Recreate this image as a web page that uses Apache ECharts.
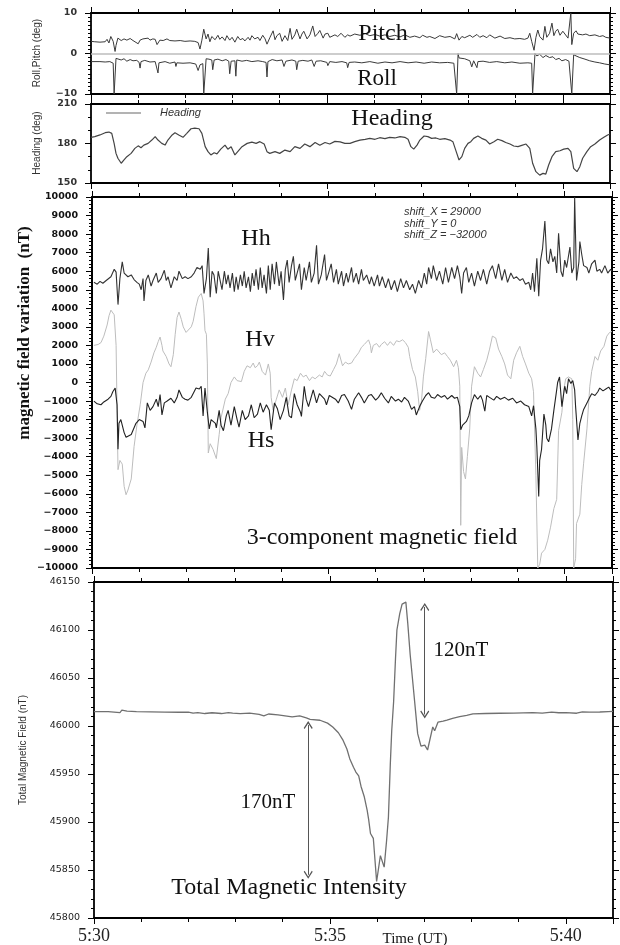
<!DOCTYPE html>
<html><head><meta charset="utf-8">
<script src="https://cdn.jsdelivr.net/npm/echarts@6/dist/echarts.min.js"></script>
<style>html,body{margin:0;padding:0;background:#fff;}#c{width:620px;height:945px;}</style>
</head><body><div id="c"></div>
<script>
// time in minutes after 5:30 UT
const timeTickValues = [0, 5, 10];
const timeTickLabels = ['5:30', '5:35', '5:40'];
const rollPitchRange = [-10, 10, 10];
const headingRange = [150, 210, 30];
const fieldRange = [-10000, 10000, 1000];
const tmiRange = [45800, 46150, 50];

const pitch = [[0,3.0],[0.08,2.9],[0.19,2.8],[0.30,2.9],[0.34,3.5],[0.38,2.6],[0.42,4.2],[0.47,3.0],[0.51,0.5],[0.53,2.0],[0.57,3.8],[0.64,3.2],[0.70,3.6],[0.76,3.3],[0.83,3.7],[0.89,3.2],[0.93,3.5],[1.00,2.4],[1.04,3.3],[1.10,3.6],[1.14,3.4],[1.21,3.8],[1.25,3.3],[1.31,3.6],[1.36,3.5],[1.40,2.2],[1.46,3.3],[1.53,3.2],[1.61,3.6],[1.67,3.2],[1.78,3.1],[1.89,3.2],[1.99,3.0],[2.10,3.1],[2.20,3.0],[2.27,2.7],[2.31,1.1],[2.35,3.3],[2.39,6.0],[2.44,3.6],[2.48,4.8],[2.52,2.9],[2.56,4.2],[2.63,3.4],[2.69,4.5],[2.73,3.5],[2.78,4.1],[2.84,3.2],[2.88,4.4],[2.94,3.3],[2.99,4.0],[3.05,2.8],[3.11,4.2],[3.16,3.4],[3.22,3.7],[3.26,3.1],[3.33,4.0],[3.37,3.3],[3.41,4.4],[3.47,3.6],[3.54,4.0],[3.58,3.2],[3.64,4.5],[3.69,3.6],[3.73,2.3],[3.79,3.9],[3.86,5.6],[3.90,3.4],[3.94,4.4],[4.00,5.0],[4.05,3.0],[4.11,4.4],[4.17,3.2],[4.22,6.2],[4.26,3.5],[4.32,4.6],[4.36,6.0],[4.43,3.6],[4.47,4.8],[4.51,5.5],[4.58,3.6],[4.64,4.6],[4.70,6.8],[4.75,4.2],[4.81,5.0],[4.85,5.7],[4.92,3.8],[4.96,4.8],[5.02,5.0],[5.06,4.0],[5.17,4.6],[5.23,4.2],[5.30,5.0],[5.38,4.0],[5.44,4.6],[5.49,4.3],[5.59,4.8],[5.70,4.5],[5.81,4.9],[5.91,4.4],[6.02,4.7],[6.12,4.3],[6.23,4.6],[6.33,4.2],[6.44,4.5],[6.55,4.1],[6.65,4.6],[6.76,4.0],[6.86,4.3],[6.97,3.9],[7.03,4.5],[7.12,4.0],[7.18,4.2],[7.29,3.7],[7.39,4.4],[7.50,4.0],[7.61,4.2],[7.71,3.6],[7.75,4.9],[7.80,3.3],[7.86,4.2],[7.92,3.9],[8.03,4.5],[8.09,4.0],[8.18,4.7],[8.24,4.0],[8.31,4.4],[8.39,3.9],[8.45,4.6],[8.56,3.8],[8.67,4.3],[8.77,3.7],[8.88,3.9],[8.98,3.6],[9.09,3.7],[9.19,3.5],[9.26,3.8],[9.30,5.0],[9.34,3.0],[9.39,0.8],[9.43,4.0],[9.47,5.8],[9.51,4.2],[9.58,3.3],[9.62,6.7],[9.66,4.0],[9.72,5.0],[9.77,7.5],[9.81,4.4],[9.85,5.5],[9.89,6.0],[9.94,4.5],[10.00,5.5],[10.04,5.2],[10.11,3.8],[10.15,4.0],[10.17,10.0],[10.19,2.2],[10.23,5.0],[10.28,5.6],[10.32,4.8],[10.36,5.0],[10.42,4.6],[10.49,4.8],[10.57,4.4],[10.68,4.6],[10.78,4.2],[10.85,4.4],[10.91,4.0],[11.0,3.8]];

const roll = [[0,-2.0],[0.19,-2.0],[0.30,-2.1],[0.40,-2.0],[0.44,-2.3],[0.47,-2.4],[0.49,-10],[0.51,-10],[0.53,-1.2],[0.57,-1.1],[0.64,-1.6],[0.70,-1.3],[0.76,-1.9],[0.83,-1.5],[0.89,-1.8],[0.97,-1.7],[1.02,-2.2],[1.04,-3.6],[1.06,-2.0],[1.14,-1.7],[1.25,-2.1],[1.36,-2.0],[1.40,-2.4],[1.42,-4.8],[1.44,-2.3],[1.57,-2.0],[1.67,-2.4],[1.78,-2.1],[1.80,-3.2],[1.82,-2.3],[1.95,-2.4],[2.10,-2.3],[2.22,-2.6],[2.27,-4.2],[2.31,-2.8],[2.37,-2.5],[2.39,-10],[2.42,-10],[2.44,-1.3],[2.50,-1.4],[2.56,-1.6],[2.58,-4.0],[2.61,-1.6],[2.69,-1.4],[2.78,-1.8],[2.86,-1.5],[2.92,-1.9],[2.94,-5.0],[2.97,-1.9],[3.05,-1.8],[3.07,-5.6],[3.09,-1.6],[3.20,-1.9],[3.30,-1.7],[3.41,-2.0],[3.54,-1.8],[3.64,-2.0],[3.71,-2.2],[3.73,-5.8],[3.75,-2.0],[3.84,-1.5],[3.94,-1.8],[4.05,-1.6],[4.09,-3.2],[4.13,-1.9],[4.26,-1.6],[4.34,-1.9],[4.36,-4.0],[4.39,-1.9],[4.49,-1.7],[4.60,-1.9],[4.68,-1.6],[4.73,-3.2],[4.77,-1.9],[4.87,-1.8],[5.00,-2.2],[5.02,-3.0],[5.06,-2.0],[5.19,-2.2],[5.32,-2.0],[5.42,-2.3],[5.44,-3.5],[5.47,-2.2],[5.59,-2.1],[5.74,-2.3],[5.91,-2.0],[6.08,-2.4],[6.23,-2.1],[6.38,-2.3],[6.55,-2.0],[6.72,-2.3],[6.89,-2.1],[7.06,-2.4],[7.22,-2.1],[7.39,-2.3],[7.56,-2.2],[7.69,-2.4],[7.73,-2.3],[7.75,-10],[7.78,0],[7.80,-1.1],[7.92,-1.3],[8.03,-1.8],[8.07,-3.3],[8.11,-1.8],[8.18,-3.5],[8.20,-2.0],[8.31,-1.9],[8.45,-2.2],[8.60,-2.0],[8.77,-2.3],[8.92,-2.1],[9.09,-2.4],[9.26,-2.3],[9.34,-2.4],[9.36,-10],[9.41,0],[9.45,-0.6],[9.51,-0.2],[9.58,-1.0],[9.64,-0.5],[9.72,-1.0],[9.79,-0.8],[9.85,-1.5],[9.92,-1.2],[9.98,-1.8],[10.06,-1.5],[10.13,-1.9],[10.17,-1.6],[10.19,-10],[10.23,-0.3],[10.28,-0.6],[10.36,-1.0],[10.47,-1.4],[10.57,-1.8],[10.68,-2.1],[10.78,-2.3],[10.89,-2.6],[11.0,-2.8]];

const heading = [[0,184.7],[0.08,185.2],[0.19,186.5],[0.30,188.2],[0.38,188.7],[0.44,187.7],[0.49,180.1],[0.53,172.5],[0.57,168.8],[0.64,165],[0.70,167.5],[0.76,170],[0.85,172.5],[0.93,176.3],[1.00,178.2],[1.06,176.8],[1.12,178.8],[1.21,180.1],[1.29,182.6],[1.36,185.2],[1.42,182.6],[1.50,180.1],[1.57,178.8],[1.63,182.6],[1.72,186.5],[1.78,188.2],[1.86,186.5],[1.95,184.7],[2.03,187.7],[2.12,191.2],[2.20,191.7],[2.29,191.2],[2.35,187.7],[2.42,177.6],[2.48,173.8],[2.54,171.3],[2.61,173],[2.67,172.1],[2.75,175.7],[2.84,178.8],[2.90,175.7],[2.97,177.6],[3.05,171.3],[3.11,173.8],[3.20,177.6],[3.31,180.1],[3.41,181],[3.50,180.1],[3.58,181.4],[3.67,179.6],[3.73,173.8],[3.79,172.5],[3.90,173.8],[4.00,172.5],[4.11,175],[4.22,173.8],[4.32,177.6],[4.43,176.3],[4.53,179.6],[4.64,177.6],[4.75,180.8],[4.85,178.6],[4.96,180.8],[5.06,179.6],[5.17,181.6],[5.28,181.2],[5.38,180.1],[5.49,180.1],[5.59,181.4],[5.70,182.6],[5.81,183.2],[5.91,183.9],[6.02,183.2],[6.12,184.4],[6.23,183.7],[6.33,184.7],[6.44,184.2],[6.55,185.2],[6.65,184.7],[6.72,183.2],[6.78,177.6],[6.84,175.7],[6.91,178.8],[6.97,182.6],[7.06,185.7],[7.14,185.2],[7.22,183.9],[7.31,184.2],[7.39,183.2],[7.50,183.7],[7.61,182.6],[7.67,181.4],[7.73,175],[7.80,167.5],[7.86,170],[7.92,176.3],[7.99,180.1],[8.05,181.4],[8.11,183.9],[8.20,185.7],[8.28,183.9],[8.37,182.6],[8.45,179.6],[8.54,181.4],[8.62,183.2],[8.71,182.2],[8.79,180.8],[8.88,179.6],[8.96,178.1],[9.05,177.6],[9.13,178.6],[9.22,179.6],[9.30,176.3],[9.36,165],[9.43,158.6],[9.51,156],[9.58,157.3],[9.64,156.8],[9.70,163.7],[9.77,170],[9.85,173.8],[9.94,174.5],[10.02,175.7],[10.11,176.3],[10.17,173.8],[10.23,161.1],[10.30,158.6],[10.36,162.4],[10.42,168.8],[10.51,173.8],[10.59,177.6],[10.68,179.6],[10.78,182.6],[10.87,184.7],[10.95,186.5],[11.0,187.2]];

const hh = [[0.04,5400],[0.11,5300],[0.17,5450],[0.23,5350],[0.30,5500],[0.34,5450],[0.40,5700],[0.44,5600],[0.47,6100],[0.51,5950],[0.55,4200],[0.59,5600],[0.64,6500],[0.68,5900],[0.72,6000],[0.76,5700],[0.83,5800],[0.89,5550],[0.95,5400],[1.00,5300],[1.04,5000],[1.08,5600],[1.10,4400],[1.14,5500],[1.19,5800],[1.25,5200],[1.29,5500],[1.36,5900],[1.40,5400],[1.46,5600],[1.53,6050],[1.57,5500],[1.61,5700],[1.67,5100],[1.74,5700],[1.80,5500],[1.84,6000],[1.91,5600],[1.97,5700],[2.03,5600],[2.10,5700],[2.16,5900],[2.22,6200],[2.29,6100],[2.33,6300],[2.37,4800],[2.42,5600],[2.46,7250],[2.50,4600],[2.54,6000],[2.58,5800],[2.63,4800],[2.67,6000],[2.71,5500],[2.75,5000],[2.80,6000],[2.84,5300],[2.88,5800],[2.92,5100],[2.97,5900],[3.01,4900],[3.05,5700],[3.09,5000],[3.14,5800],[3.18,5200],[3.22,6000],[3.26,5100],[3.31,5700],[3.35,4900],[3.39,5900],[3.43,5200],[3.47,6100],[3.52,5000],[3.56,6200],[3.60,5100],[3.64,5800],[3.69,4800],[3.73,6300],[3.77,5000],[3.81,6400],[3.86,5300],[3.90,6500],[3.96,5200],[4.00,6000],[4.05,4450],[4.09,6100],[4.13,6600],[4.17,5400],[4.22,6300],[4.26,6800],[4.30,5500],[4.34,5400],[4.39,6400],[4.43,5000],[4.49,6200],[4.53,5500],[4.60,6500],[4.64,5400],[4.70,5900],[4.75,7400],[4.79,5300],[4.85,5800],[4.92,6900],[4.96,5500],[5.00,5500],[5.06,6400],[5.11,5400],[5.17,6100],[5.21,5300],[5.28,6000],[5.32,5200],[5.38,5900],[5.42,5400],[5.49,6200],[5.53,5400],[5.59,5900],[5.64,5300],[5.70,6100],[5.74,5500],[5.81,5800],[5.87,5300],[5.91,5700],[5.97,5200],[6.04,5800],[6.08,5200],[6.14,5700],[6.21,5100],[6.27,5600],[6.33,5000],[6.40,5500],[6.46,4900],[6.53,5600],[6.59,5100],[6.65,5500],[6.72,5000],[6.78,5300],[6.84,4800],[6.91,5500],[6.97,5100],[7.03,5900],[7.08,5300],[7.12,6200],[7.18,5600],[7.22,6300],[7.29,5500],[7.35,6000],[7.42,5300],[7.48,6200],[7.54,5400],[7.61,6200],[7.67,5600],[7.73,6300],[7.78,5700],[7.82,4800],[7.86,5900],[7.92,6200],[7.97,5400],[8.03,5900],[8.09,5200],[8.16,6000],[8.22,5500],[8.28,6100],[8.35,5300],[8.41,6000],[8.47,6300],[8.54,5600],[8.60,6400],[8.67,5500],[8.73,6100],[8.79,5400],[8.86,5900],[8.92,5600],[8.98,5700],[9.05,5500],[9.11,5600],[9.17,5300],[9.24,5400],[9.28,5000],[9.32,5900],[9.36,4900],[9.41,6700],[9.45,4650],[9.49,6600],[9.53,7200],[9.58,8700],[9.62,6600],[9.66,6400],[9.70,7200],[9.75,6500],[9.79,6800],[9.83,5900],[9.87,8050],[9.92,6000],[9.96,5700],[10.00,6600],[10.04,6200],[10.11,7300],[10.15,5900],[10.19,6200],[10.21,10000],[10.25,5500],[10.30,6500],[10.32,7600],[10.36,6900],[10.40,6300],[10.47,6200],[10.51,5900],[10.57,6400],[10.64,6600],[10.68,6000],[10.74,6100],[10.78,5900],[10.85,6300],[10.91,5900],[10.97,6100],[11.0,6000]];

const hv = [[0.04,2000],[0.13,2050],[0.19,2150],[0.25,2500],[0.32,3100],[0.36,3600],[0.40,3900],[0.44,3800],[0.47,3650],[0.49,3700],[0.51,2000],[0.53,-1500],[0.55,-4700],[0.59,-4200],[0.64,-4400],[0.68,-5600],[0.72,-6050],[0.76,-5800],[0.83,-5200],[0.89,-3450],[0.95,-2300],[1.02,-1200],[1.08,0],[1.14,500],[1.19,680],[1.25,1100],[1.31,1600],[1.36,1900],[1.40,2200],[1.44,2450],[1.48,2000],[1.50,1700],[1.57,1400],[1.63,1000],[1.67,850],[1.72,1500],[1.76,2600],[1.80,3500],[1.84,3800],[1.89,3400],[1.93,3000],[1.99,2700],[2.03,2650],[2.10,3000],[2.14,3300],[2.20,4100],[2.25,4600],[2.31,4800],[2.35,4400],[2.37,3700],[2.39,2800],[2.42,2600],[2.44,1000],[2.46,-3800],[2.50,-3300],[2.56,-3600],[2.63,-4100],[2.69,-2800],[2.73,-1900],[2.82,-900],[2.88,-600],[2.94,0],[3.01,300],[3.07,100],[3.16,50],[3.22,600],[3.28,900],[3.35,800],[3.41,1050],[3.45,800],[3.50,900],[3.54,1100],[3.60,600],[3.67,400],[3.73,1000],[3.77,500],[3.79,-800],[3.83,-1500],[3.90,-900],[3.96,-400],[4.03,-800],[4.09,-300],[4.15,-1200],[4.22,-400],[4.28,200],[4.34,100],[4.41,500],[4.47,300],[4.53,400],[4.60,100],[4.66,300],[4.72,200],[4.81,400],[4.87,300],[4.92,600],[4.98,400],[5.04,350],[5.11,700],[5.17,1000],[5.23,1550],[5.30,900],[5.36,1100],[5.42,1000],[5.49,1050],[5.55,1300],[5.64,1600],[5.70,1900],[5.76,2050],[5.85,2300],[5.89,2000],[5.91,1600],[5.95,2000],[6.02,2100],[6.08,1900],[6.12,2050],[6.19,2200],[6.25,2000],[6.31,2200],[6.38,2000],[6.44,2250],[6.50,2200],[6.57,2300],[6.63,2150],[6.69,1900],[6.72,1400],[6.78,700],[6.84,300],[6.89,-500],[6.93,-1500],[6.97,-1000],[7.01,300],[7.06,1300],[7.12,2750],[7.16,2300],[7.22,1600],[7.29,1800],[7.33,1700],[7.39,1500],[7.46,1600],[7.52,1400],[7.58,1200],[7.65,850],[7.71,1200],[7.75,800],[7.78,-200],[7.80,-7700],[7.82,-3500],[7.86,-4800],[7.90,-5200],[7.94,-4000],[7.99,-2500],[8.03,-200],[8.09,850],[8.16,500],[8.22,300],[8.28,700],[8.35,1200],[8.41,1800],[8.47,2500],[8.54,2400],[8.60,1800],[8.67,1400],[8.73,1000],[8.79,400],[8.86,200],[8.92,1200],[8.98,1600],[9.05,1950],[9.11,1400],[9.17,1000],[9.24,500],[9.30,200],[9.34,-500],[9.39,-5000],[9.43,-10000],[9.47,-9800],[9.51,-9200],[9.58,-9000],[9.64,-8500],[9.70,-7800],[9.77,-6800],[9.83,-6300],[9.87,-2600],[9.94,-1600],[9.98,-400],[10.02,200],[10.08,300],[10.15,200],[10.17,-2000],[10.19,-10000],[10.23,-9500],[10.25,-7600],[10.32,-7100],[10.36,-5500],[10.40,-4350],[10.47,-2500],[10.53,-200],[10.57,600],[10.64,1400],[10.70,1200],[10.76,1700],[10.83,1950],[10.89,2500],[10.95,2700],[11.0,2750]];

const hs = [[0.04,-1000],[0.11,-1150],[0.19,-1200],[0.25,-1050],[0.34,-900],[0.40,-750],[0.44,-500],[0.49,-300],[0.53,-1200],[0.55,-3600],[0.57,-2200],[0.61,-2000],[0.64,-1900],[0.68,-2700],[0.72,-2950],[0.76,-3000],[0.83,-2800],[0.87,-2700],[0.93,-2200],[1.00,-2000],[1.04,-1900],[1.08,-2100],[1.12,-2450],[1.17,-1100],[1.23,-1500],[1.29,-1300],[1.36,-900],[1.40,-1300],[1.44,-650],[1.48,-1750],[1.53,-1100],[1.59,-1000],[1.67,-850],[1.74,-1100],[1.80,-800],[1.84,-400],[1.91,-800],[1.97,-900],[2.03,-950],[2.10,-800],[2.16,-500],[2.20,-300],[2.27,-350],[2.31,-200],[2.35,-1800],[2.39,-300],[2.44,-1600],[2.48,-2500],[2.52,-2000],[2.56,-2100],[2.61,-2200],[2.63,-2450],[2.69,-1500],[2.73,-2300],[2.78,-2600],[2.84,-1800],[2.88,-1500],[2.94,-2300],[3.01,-1300],[3.07,-2000],[3.11,-2400],[3.18,-1500],[3.24,-2000],[3.31,-1800],[3.37,-1200],[3.43,-1900],[3.50,-1700],[3.56,-1100],[3.62,-1600],[3.69,-1200],[3.75,-1500],[3.79,-2550],[3.86,-1100],[3.92,-1400],[3.98,-2000],[4.05,-1500],[4.11,-800],[4.17,-1800],[4.22,-1900],[4.28,-600],[4.34,-1200],[4.41,-1600],[4.43,-1830],[4.49,-200],[4.53,-900],[4.58,-1300],[4.68,-400],[4.75,-1100],[4.81,-600],[4.85,-500],[4.92,-900],[4.96,-1200],[5.02,-700],[5.06,-600],[5.15,-900],[5.21,-1100],[5.28,-700],[5.34,-650],[5.42,-1000],[5.49,-1450],[5.55,-900],[5.64,-550],[5.70,-800],[5.76,-1100],[5.85,-700],[5.91,-650],[6.00,-950],[6.06,-800],[6.12,-550],[6.19,-850],[6.27,-1100],[6.33,-750],[6.42,-1000],[6.48,-900],[6.55,-1050],[6.61,-800],[6.69,-1000],[6.76,-1450],[6.82,-1300],[6.86,-1750],[6.93,-1300],[6.99,-1000],[7.06,-700],[7.12,-550],[7.18,-800],[7.25,-850],[7.31,-650],[7.39,-800],[7.46,-700],[7.52,-900],[7.61,-700],[7.67,-850],[7.73,-800],[7.78,-1300],[7.80,-2550],[7.84,-2300],[7.88,-2200],[7.92,-2100],[7.97,-1800],[8.03,-1100],[8.09,-650],[8.16,-900],[8.22,-700],[8.26,-950],[8.31,-1550],[8.35,-700],[8.41,-800],[8.50,-950],[8.56,-750],[8.64,-900],[8.73,-800],[8.81,-950],[8.90,-850],[8.98,-1100],[9.07,-1000],[9.15,-1200],[9.24,-1300],[9.30,-1800],[9.34,-1250],[9.39,-2500],[9.41,-3450],[9.45,-6150],[9.47,-4200],[9.51,-3600],[9.56,-1700],[9.60,-2300],[9.62,-3000],[9.66,-3200],[9.68,-3300],[9.72,-2500],[9.77,-1500],[9.83,-400],[9.85,0],[9.89,300],[9.94,-1300],[10.00,-200],[10.04,-600],[10.08,200],[10.13,-50],[10.17,100],[10.21,-400],[10.23,-1300],[10.28,-3100],[10.32,-2200],[10.36,-1800],[10.40,-1450],[10.47,-1100],[10.53,-800],[10.57,-600],[10.64,-700],[10.70,-500],[10.74,-300],[10.81,-450],[10.87,-350],[10.93,-250],[11.0,-500]];

const tmi = [[0,46015],[0.3,46015],[0.55,46014],[0.59,46016.5],[0.63,46014.5],[0.7,46015.5],[0.9,46015],[1.2,46014.8],[1.5,46014.5],[1.8,46014.3],[2.0,46014.5],[2.1,46013.5],[2.2,46014],[2.35,46013],[2.5,46013.8],[2.7,46013],[2.85,46014],[2.94,46013.5],[3.1,46012.8],[3.3,46013.5],[3.5,46012],[3.6,46010.5],[3.7,46012.5],[3.9,46011.5],[4.05,46010.5],[4.2,46009.5],[4.36,46010.5],[4.5,46008.5],[4.58,46007],[4.79,46006],[4.95,46003],[5.06,45999],[5.18,45993],[5.28,45985],[5.36,45976],[5.42,45966],[5.50,45957],[5.55,45952],[5.61,45948],[5.66,45937],[5.73,45926],[5.79,45912],[5.82,45903],[5.86,45888],[5.92,45883],[5.99,45838],[6.07,45865],[6.15,45853],[6.20,45880],[6.24,45905],[6.28,45960],[6.31,45995],[6.35,46025],[6.39,46070],[6.42,46100],[6.48,46117],[6.53,46127],[6.57,46129],[6.61,46129],[6.65,46107],[6.70,46075],[6.76,46044],[6.86,45992],[6.93,45979],[6.97,45978],[7.01,45980],[7.07,45975],[7.10,45973],[7.18,45999],[7.22,45995],[7.29,46004],[7.40,46005],[7.48,46006],[7.6,46008],[7.75,46009.8],[7.9,46011],[8.03,46012.6],[8.3,46013],[8.6,46013.3],[8.9,46013.5],[9.3,46014],[9.5,46013.5],[9.7,46014.5],[9.85,46013.8],[10.0,46014],[10.23,46013.3],[10.35,46014.8],[10.5,46014.4],[10.72,46014.6],[10.9,46015],[11.0,46015.2]];

const arrow120 = [[7.01, 46124], [7.01, 46012]];
const arrow170 = [[4.54, 46001], [4.54, 45845]];

const SERIF = "'Liberation Serif','DejaVu Serif',serif";
const SANS = "'Liberation Sans','DejaVu Sans',sans-serif";

function xPair(g, w, showLabels) {
  const base = {
    type: 'value', gridIndex: g, min: 0, max: 11, interval: 5,
    axisLine: {show: true, onZero: false, lineStyle: {color: '#000', width: w}},
    axisTick: {show: true, length: 6, lineStyle: {color: '#000', width: 1}},
    minorTick: {show: true, splitNumber: 5, length: 4, lineStyle: {color: '#000', width: 1}},
    splitLine: {show: false}, minorSplitLine: {show: false}
  };
  const bottom = Object.assign({}, base, {position: 'bottom',
    axisLabel: showLabels ? {
      show: true, margin: 9, fontFamily: SERIF, fontSize: 18, color: '#222',
      formatter: v => { const i = timeTickValues.indexOf(Math.round(v * 100) / 100); return i >= 0 ? timeTickLabels[i] : ''; }
    } : {show: false}});
  const top = Object.assign({}, base, {position: 'top', axisLabel: {show: false}});
  return [bottom, top];
}
function yPair(g, range, minorSplit, w, label) {
  const base = {
    type: 'value', gridIndex: g, min: range[0], max: range[1], interval: range[2],
    axisLine: {show: true, onZero: false, lineStyle: {color: '#000', width: w}},
    axisTick: {show: true, length: 6, lineStyle: {color: '#000', width: 1}},
    minorTick: {show: true, splitNumber: minorSplit, length: 3, lineStyle: {color: '#000', width: 1}},
    splitLine: {show: false}, minorSplitLine: {show: false}
  };
  const left = Object.assign({}, base, {position: 'left', axisLabel: Object.assign({
    show: true, margin: 14, fontFamily: "'DejaVu Sans',sans-serif", fontSize: 9.5, color: '#222',
    formatter: v => String(v).replace('-', '\u2212')
  }, label || {})});
  const right = Object.assign({}, base, {position: 'right', axisLabel: {show: false}});
  return [left, right];
}
function line(name, data, xi, yi, color, width, z) {
  return {name, type: 'line', data, xAxisIndex: xi, yAxisIndex: yi, showSymbol: false, symbol: 'none',
    lineStyle: {color, width}, itemStyle: {color}, z, animation: false, silent: true};
}
function txt(text, x, y, font, opts) {
  return Object.assign({type: 'text', x, y, silent: true, z: 100,
    style: Object.assign({text, font, fill: '#111', align: 'center', verticalAlign: 'middle'}, (opts && opts.style) || {})},
    (opts && opts.el) || {});
}

const chevron = 'path://M0,0 L5,7 L4,8 L0,2.4 L-4,8 L-5,7 Z';

const pitchSeries = line('Pitch', pitch, 0, 0, '#3a3a3a', 1, 3);
pitchSeries.markLine = {silent: true, animation: false, symbol: 'none', label: {show: false},
  lineStyle: {color: '#bdbdbd', width: 1.6, type: 'solid'}, data: [{yAxis: 0}]};
const tmiSeries = line('Total Magnetic Intensity', tmi, 6, 6, '#707070', 1.3, 3);
tmiSeries.markLine = {silent: true, animation: false, symbol: [chevron, chevron], symbolSize: [9, 8],
  label: {show: false}, lineStyle: {color: '#555', width: 1, type: 'solid'},
  data: [[{coord: arrow120[0]}, {coord: arrow120[1]}], [{coord: arrow170[0]}, {coord: arrow170[1]}]]};

const option = {
  animation: false,
  backgroundColor: '#fff',
  grid: [
    {left: 91, top: 13, width: 519, height: 81},
    {left: 91, top: 104, width: 519, height: 79},
    {left: 92, top: 197, width: 520, height: 371},
    {left: 94, top: 582, width: 519, height: 336}
  ],
  xAxis: [].concat(xPair(0, 1.8, false), xPair(1, 1.8, false), xPair(2, 2, false), xPair(3, 1.8, true)),
  yAxis: [].concat(
    yPair(0, rollPitchRange, 10, 1.8, {fontWeight: 'bold', color: '#333'}),
    yPair(1, headingRange, 3, 1.8, {fontWeight: 'bold', color: '#333'}),
    yPair(2, fieldRange, 5, 2, {fontWeight: 'bold', color: '#111'}),
    yPair(3, tmiRange, 5, 1.8)
  ),
  series: [
    pitchSeries,
    line('Roll', roll, 0, 0, '#3a3a3a', 1, 3),
    line('Heading', heading, 2, 2, '#444', 1.2, 3),
    line('Hv', hv, 4, 4, '#bdbdbd', 1, 2),
    line('Hh', hh, 4, 4, '#333', 1.1, 3),
    line('Hs', hs, 4, 4, '#222', 1.1, 4),
    tmiSeries
  ],
  graphic: [
    txt('Pitch', 383, 34, '24px ' + SERIF),
    txt('Roll', 377, 79, '23px ' + SERIF),
    txt('Heading', 392, 119, '24px ' + SERIF),
    {type: 'line', silent: true, z: 100, shape: {x1: 106, y1: 113, x2: 141, y2: 113}, style: {stroke: '#9a9a9a', lineWidth: 1.5}},
    txt('Heading', 160, 113, 'italic 11px ' + SANS, {style: {align: 'left', fill: '#333'}}),
    txt('Hh', 256, 239, '24px ' + SERIF),
    txt('Hv', 260, 340, '24px ' + SERIF),
    txt('Hs', 261, 441, '24px ' + SERIF),
    txt('3-component magnetic field', 382, 538, '24px ' + SERIF),
    txt('shift_X = 29000', 404, 212, 'italic 11px ' + SANS, {style: {align: 'left', fill: '#333'}}),
    txt('shift_Y = 0', 404, 223.5, 'italic 11px ' + SANS, {style: {align: 'left', fill: '#333'}}),
    txt('shift_Z = \u221232000', 404, 235, 'italic 11px ' + SANS, {style: {align: 'left', fill: '#333'}}),
    txt('120nT', 461, 650, '21px ' + SERIF),
    txt('170nT', 268, 802, '21px ' + SERIF),
    txt('Total Magnetic Intensity', 289, 888, '24px ' + SERIF),
    txt('Time (UT)', 415, 939, '15px ' + SERIF),
    txt('Roll,Pitch (deg)', 37, 53, '10px ' + SANS, {el: {rotation: Math.PI / 2}, style: {fill: '#333'}}),
    txt('Heading (deg)', 37, 143, '10px ' + SANS, {el: {rotation: Math.PI / 2}, style: {fill: '#333'}}),
    txt('magnetic field variation  (nT)', 25, 333, 'bold 17px ' + SERIF, {el: {rotation: Math.PI / 2}}),
    txt('Total Magnetic Field (nT)', 23, 750, '10px ' + SANS, {el: {rotation: Math.PI / 2}, style: {fill: '#333'}})
  ]
};

const chart = echarts.init(document.getElementById('c'), null, {renderer: 'canvas'});
chart.setOption(option);
</script>
</body></html>
